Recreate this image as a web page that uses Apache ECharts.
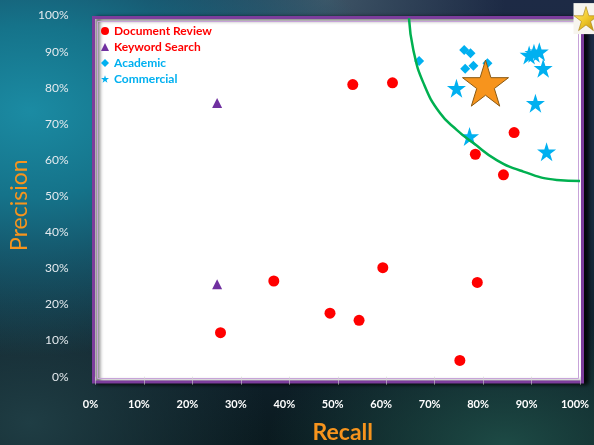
<!DOCTYPE html>
<html>
<head>
<meta charset="utf-8">
<script src="https://cdn.jsdelivr.net/npm/echarts@6/dist/echarts.min.js"></script>
<style>
  html, body {
    margin: 0;
    padding: 0;
    width: 594px;
    height: 445px;
    overflow: hidden;
    background:
      radial-gradient(ellipse 60% 55% at 5% 25%, #1b8ba3 0%, #15738a 35%, rgba(21, 100, 120, 0) 100%),
      radial-gradient(ellipse 30% 25% at 55% 0%, rgba(70, 95, 110, 0.8) 0%, rgba(40, 60, 80, 0) 100%),
      radial-gradient(ellipse 40% 30% at 85% 100%, #1d4a45 0%, rgba(20, 60, 55, 0) 100%),
      radial-gradient(ellipse 40% 40% at 5% 95%, #1f3d44 0%, rgba(20, 50, 55, 0) 100%),
      linear-gradient(to bottom, #1d2a45 0%, #172a3c 50%, #0a1a1f 100%);
  }
  #chart {
    width: 594px;
    height: 445px;
  }
</style>
</head>
<body>
<div id="chart"></div>
<script>
// 数据 (recall, precision)
const documentReview = [
  [0.531, 0.809], [0.613, 0.814], [0.864, 0.676], [0.784, 0.616],
  [0.842, 0.559], [0.368, 0.265], [0.484, 0.176], [0.544, 0.156],
  [0.258, 0.122], [0.593, 0.302], [0.788, 0.261], [0.752, 0.045]
]
const keywordSearch = [[0.251, 0.758], [0.251, 0.256]]
const academic = [
  [0.668, 0.874], [0.761, 0.905], [0.774, 0.896],
  [0.763, 0.853], [0.780, 0.861], [0.809, 0.868]
]
const commercial = [
  [0.745, 0.799], [0.895, 0.891], [0.905, 0.896], [0.916, 0.900],
  [0.924, 0.854], [0.908, 0.757], [0.772, 0.665], [0.931, 0.623]
]
const bestPoint = [[0.805, 0.813]]
const idealPoint = [[1.0, 1.0]]
// 绿色弧线
const frontier = [
  [0.647, 0.993], [0.656, 0.905], [0.677, 0.813], [0.711, 0.730],
  [0.746, 0.683], [0.780, 0.647], [0.828, 0.600], [0.883, 0.568],
  [0.952, 0.545], [1.0, 0.542]
]

const STAR = 'path://M50,0 L61.2,34.5 L97.6,34.5 L68.2,55.9 L79.4,90.5 L50,69.1 L20.6,90.5 L31.8,55.9 L2.4,34.5 L38.8,34.5 Z'
const FONT = 'Lato, "Open Sans", sans-serif'
const pct = v => Math.round(v * 100) + '%'

const chart = echarts.init(document.getElementById('chart'))

const option = {
  backgroundColor: 'transparent',
  animation: false,
  grid: { left: 95.5, right: 14, top: 15.6, bottom: 68.3, outerBoundsMode: 'none', containLabel: false },
  graphic: [
    {
      type: 'rect',
      z: 0,
      shape: { x: 93.5, y: 17.5, width: 489, height: 364.5 },
      style: {
        fill: '#ffffff',
        stroke: '#7c3d9c',
        lineWidth: 3,
        shadowColor: 'rgba(0, 0, 0, 0.85)',
        shadowBlur: 4,
        shadowOffsetX: 4,
        shadowOffsetY: 1
      }
    },
    {
      type: 'rect',
      z: 0,
      shape: { x: 97.5, y: 21.5, width: 481, height: 357 },
      style: { fill: 'none', stroke: '#c7a3d9', lineWidth: 1 }
    }
  ],
  legend: {
    orient: 'vertical',
    left: 96,
    top: 20,
    itemGap: 4,
    itemWidth: 8,
    itemHeight: 8,
    textStyle: { fontFamily: FONT, fontWeight: 'bold', fontSize: 12 },
    data: [
      { name: 'Document Review', textStyle: { color: '#ff0000' } },
      { name: 'Keyword Search', textStyle: { color: '#ff0000' } },
      { name: 'Academic', textStyle: { color: '#00b0f0' } },
      { name: 'Commercial', textStyle: { color: '#00b0f0' } }
    ]
  },
  xAxis: {
    type: 'value',
    min: 0,
    max: 1,
    interval: 0.1,
    name: 'Recall',
    nameLocation: 'middle',
    nameGap: 44,
    nameTextStyle: { color: '#f7941d', fontSize: 23, fontWeight: 'bold', fontFamily: FONT, padding: [0, 0, 0, 10] },
    axisLine: { show: false },
    axisTick: { show: true, length: 8, lineStyle: { color: 'rgba(210, 210, 210, 0.6)' } },
    splitLine: { show: false },
    axisLabel: {
      color: '#ffffff',
      fontWeight: 'bold',
      fontSize: 11,
      fontFamily: FONT,
      margin: 22,
      padding: [0, 10, 0, 0],
      formatter: pct
    }
  },
  yAxis: {
    type: 'value',
    min: 0,
    max: 1,
    interval: 0.1,
    name: 'Precision',
    nameLocation: 'middle',
    nameGap: 64,
    nameMoveOverlap: false,
    nameTextStyle: { color: '#f7941d', fontSize: 23, fontFamily: FONT, padding: [0, 18, 0, 0] },
    axisLine: { show: false },
    axisTick: { show: false },
    splitLine: { show: false },
    axisLabel: {
      color: '#e4eaee',
      fontSize: 12,
      fontFamily: FONT,
      margin: 27,
      formatter: pct
    }
  },
  series: [
    {
      name: 'Document Review',
      type: 'scatter',
      symbol: 'circle',
      symbolSize: 11,
      itemStyle: { color: '#ff0000', opacity: 1 },
      data: documentReview
    },
    {
      name: 'Keyword Search',
      type: 'scatter',
      symbol: 'triangle',
      symbolSize: 10,
      itemStyle: { color: '#7030a0', opacity: 1 },
      data: keywordSearch
    },
    {
      name: 'Academic',
      type: 'scatter',
      symbol: 'diamond',
      symbolSize: 10,
      itemStyle: { color: '#00b0f0', opacity: 1 },
      data: academic
    },
    {
      name: 'Commercial',
      type: 'scatter',
      symbol: STAR,
      symbolSize: 19,
      itemStyle: { color: '#00b0f0', opacity: 1 },
      data: commercial
    },
    {
      name: 'Frontier',
      type: 'line',
      smooth: true,
      showSymbol: false,
      clip: false,
      lineStyle: { color: '#00b050', width: 2.5 },
      data: frontier
    },
    {
      name: 'Best',
      type: 'scatter',
      symbol: STAR,
      symbolSize: 46,
      itemStyle: { color: '#f7941d', borderColor: '#8a5a14', borderWidth: 1, opacity: 1 },
      data: bestPoint
    },
    {
      name: 'IdealBox',
      type: 'scatter',
      symbol: 'rect',
      symbolSize: [23, 31],
      symbolOffset: [5, 3],
      clip: false,
      itemStyle: { color: '#f7f5ee', opacity: 1 },
      data: idealPoint
    },
    {
      name: 'Ideal',
      type: 'scatter',
      symbol: STAR,
      symbolSize: 24,
      symbolOffset: [6, 3],
      clip: false,
      itemStyle: {
        color: new echarts.graphic.LinearGradient(0, 0, 1, 1, [
          { offset: 0, color: '#fff08a' },
          { offset: 0.5, color: '#f1c92a' },
          { offset: 1, color: '#b98b0c' }
        ]),
        borderColor: '#a57c10',
        borderWidth: 0.6,
        opacity: 1
      },
      data: idealPoint
    }
  ]
}

chart.setOption(option)
</script>
</body>
</html>
